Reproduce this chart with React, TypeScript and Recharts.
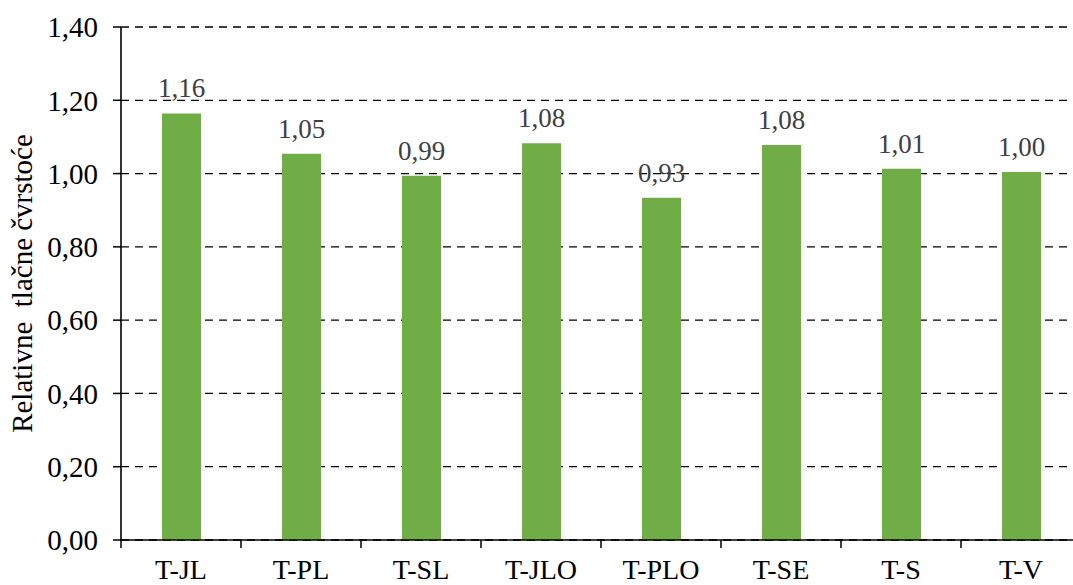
import { Bar, BarChart, CartesianGrid, LabelList, XAxis, YAxis } from "recharts";

const categories = ["T-JL", "T-PL", "T-SL", "T-JLO", "T-PLO", "T-SE", "T-S", "T-V"];
const strengthValues = [1.164, 1.054, 0.994, 1.083, 0.934, 1.078, 1.013, 1.004];
const yTicks = [0, 0.2, 0.4, 0.6, 0.8, 1.0, 1.2, 1.4];

const data = categories.map((name, i) => ({ name, value: strengthValues[i] }));

const FONT = '"Liberation Serif", "Times New Roman", serif';
const TICK_SIZE = 8;
const TICK_MARGIN = 11;
const fmt = (v: number) => v.toFixed(2).replace(".", ",");

// category label plus the tick marks on the band edges (Excel style)
function CategoryTick({ x, y, payload, index, visibleTicksCount }: any) {
  const half = payload?.offset ?? 0;
  const axisY = y - TICK_SIZE - TICK_MARGIN;
  const isLast = index === visibleTicksCount - 1;
  return (
    <g>
      <line x1={x - half} x2={x - half} y1={axisY} y2={axisY + TICK_SIZE} stroke="#000" strokeWidth={1.5} />
      {isLast && (
        <line x1={x + half} x2={x + half} y1={axisY} y2={axisY + TICK_SIZE} stroke="#000" strokeWidth={1.5} />
      )}
      <text x={x} y={y} dy="0.71em" textAnchor="middle" fill="#000" fontSize={28} fontFamily={FONT}>
        {payload.value}
      </text>
    </g>
  );
}

export default function App() {
  return (
    <div
      style={{
        position: "absolute",
        left: 0,
        top: 0,
        width: 1073,
        height: 585,
        overflow: "hidden",
        background: "#fff",
      }}
    >
      <BarChart
        width={1081}
        height={585}
        data={data}
        margin={{ top: 27, right: 0, bottom: 0, left: 0 }}
        style={{ fontFamily: FONT }}
      >
        <CartesianGrid
          horizontal
          vertical={false}
          stroke="#000"
          strokeWidth={1.3}
          strokeDasharray="8 6"
        />
        <XAxis
          dataKey="name"
          height={45}
          axisLine={{ stroke: "#000", strokeWidth: 1.6 }}
          tickLine={false}
          tickSize={TICK_SIZE}
          tickMargin={TICK_MARGIN}
          interval={0}
          tick={<CategoryTick />}
        />
        <YAxis
          domain={[0, 1.4]}
          ticks={yTicks}
          width={121}
          interval={0}
          tickFormatter={fmt}
          axisLine={{ stroke: "#000", strokeWidth: 1.6 }}
          tickLine={{ stroke: "#000", strokeWidth: 1.5 }}
          tickSize={8}
          tickMargin={15}
          tick={{ fill: "#000", fontSize: 29, fontFamily: FONT }}
          label={{
            value: "Relativne\u00a0 tlačne čvrstoće",
            angle: -90,
            position: "insideLeft",
            offset: 22,
            style: { textAnchor: "middle", fill: "#000", fontSize: 29, fontFamily: FONT },
          }}
        />
        <Bar dataKey="value" fill="#70AD47" barSize={39} isAnimationActive={false}>
          <LabelList
            dataKey="value"
            position="top"
            offset={16}
            formatter={(v: any) => fmt(Number(v))}
            style={{ fill: "#404040", fontSize: 27, fontFamily: FONT }}
          />
        </Bar>
      </BarChart>
    </div>
  );
}
